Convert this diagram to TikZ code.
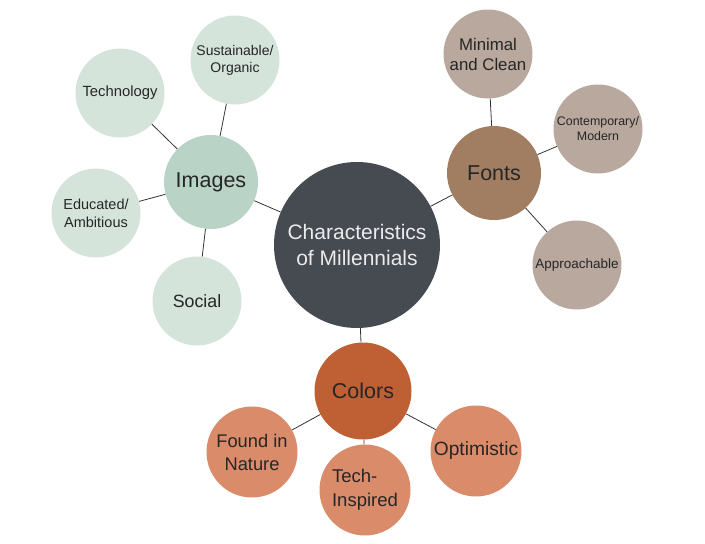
\documentclass[tikz,border=0pt]{standalone}
\usepackage{fontspec}
\setmainfont{Liberation Sans}
\definecolor{coregray}{HTML}{464A51}
\definecolor{imghub}{HTML}{B9D4C7}
\definecolor{imgleaf}{HTML}{D5E4DB}
\definecolor{fonthub}{HTML}{A17E62}
\definecolor{fontleaf}{HTML}{B8A89D}
\definecolor{colhub}{HTML}{BF6034}
\definecolor{colleaf}{HTML}{DA8B6A}
\begin{document}
\begin{tikzpicture}[x=1pt,y=-1pt,
    bubble/.style={circle,inner sep=0pt,align=center,text=black!85},
    hub/.style={bubble,minimum size=94pt,font=\fontsize{21.5}{25}\selectfont},
    leaf/.style={bubble,minimum size=89pt},
    link/.style={line width=0.8pt,draw=black!80}]
    \useasboundingbox (0,0) rectangle (705,544);
    % centre
    \node[bubble,fill=coregray,minimum size=166pt,text=white!92!black,font=\fontsize{21}{26}\selectfont] (core) at (357,245) {Characteristics\\of Millennials};

    % images
    \node[hub,fill=imghub] (images) at (211,182) {Images};
    \node[leaf,fill=imgleaf,font=\fontsize{14.8}{18}\selectfont] (tech) at (120,93) {Technology};
    \node[leaf,fill=imgleaf,font=\fontsize{14}{17}\selectfont] (sustain) at (235,60) {Sustainable/\\Organic};
    \node[leaf,fill=imgleaf,font=\fontsize{14.5}{18}\selectfont] (educ) at (96,213) {Educated/\\Ambitious};
    \node[leaf,fill=imgleaf,font=\fontsize{17.8}{21}\selectfont] (social) at (197,301) {Social};

    % fonts
    \node[hub,fill=fonthub] (fonts) at (494,173) {Fonts};
    \node[leaf,fill=fontleaf,font=\fontsize{16.8}{20}\selectfont] (minimal) at (488,54) {Minimal\\and Clean};
    \node[leaf,fill=fontleaf,font=\fontsize{12.4}{15}\selectfont] (contemp) at (598,129) {Contemporary/\\Modern};
    \node[leaf,fill=fontleaf,font=\fontsize{13.5}{16}\selectfont] (approach) at (577,265) {Approachable};

    % colors
    \node[hub,fill=colhub,minimum size=97pt] (colors) at (363,391) {Colors};
    \node[leaf,fill=colleaf,minimum size=91pt,font=\fontsize{18.3}{23}\selectfont] (nature) at (252,452) {Found in\\Nature};
    \node[leaf,fill=colleaf,minimum size=91pt,align=left,font=\fontsize{18.5}{24}\selectfont] (techinsp) at (365,490) {Tech-\\Inspired};
    \node[leaf,fill=colleaf,minimum size=91pt,font=\fontsize{19.2}{22}\selectfont] (optim) at (476,451) {Optimistic};

    \draw[link] (core) -- (images);
    \draw[link] (core) -- (fonts);
    \draw[link] (core) -- (colors);
    \draw[link] (images) -- (tech);
    \draw[link] (images) -- (sustain);
    \draw[link] (images) -- (educ);
    \draw[link] (images) -- (social);
    \draw[link] (fonts) -- (minimal);
    \draw[link] (fonts) -- (contemp);
    \draw[link] (fonts) -- (approach);
    \draw[link] (colors) -- (nature);
    \draw[link] (colors) -- (techinsp);
    \draw[link] (colors) -- (optim);
\end{tikzpicture}
\end{document}
